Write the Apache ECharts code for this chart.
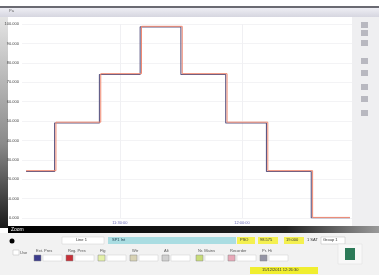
<!DOCTYPE html>
<html>
<head>
<meta charset="utf-8">
<script src="https://cdn.jsdelivr.net/npm/echarts@6/dist/echarts.min.js"></script>
<style>
  html, body { margin: 0; padding: 0; background: #fff; }
  #chart { width: 379px; height: 275px; }
</style>
</head>
<body>
<div id="chart"></div>
<script>
var dom = document.getElementById('chart');
var myChart = echarts.init(dom);

// set point (dark) and process value (red), step start times and levels
var day = '2024-01-01 ';
var spTimes = ['11:07:00', '11:14:00', '11:25:00', '11:35:00', '11:45:00', '11:56:00', '12:06:00', '12:17:00', '12:26:30'];
var spValues = [24, 49, 74, 98.5, 74, 49, 24, 0, 0];
var pvTimes = ['11:07:00', '11:14:20', '11:25:20', '11:35:20', '11:45:20', '11:56:20', '12:06:20', '12:17:20', '12:26:30'];
var pvValues = [24.4, 49.4, 74.4, 98.8, 74.4, 49.4, 24.4, 0.3, 0.3];
var xTicks = ['11:30:00', '12:00:00'];
var yTicks = [0, 10, 20, 30, 40, 50, 60, 70, 80, 90, 100];

function pairs(times, vals) {
    return times.map(function (t, i) { return [day + t, vals[i]]; });
}
var xTickValues = xTicks.map(function (t) { return +new Date(day.trim() + 'T' + t); });

// swatches in the control panel below the chart
var swatches = [
    {x: 34, c: '#3c3c8c', t: 'Ext. Pres'},
    {x: 66, c: '#c83038', t: 'Reg. Pres'},
    {x: 98, c: '#e4f0a8', t: 'Flg'},
    {x: 130, c: '#d8d2b4', t: 'Wtr'},
    {x: 162, c: '#cfcfcf', t: 'Alt'},
    {x: 196, c: '#c8dc78', t: 'Nr. Mains'},
    {x: 228, c: '#e8a8b8', t: 'Recorder'},
    {x: 260, c: '#9494a4', t: 'Pr. Hi'}
];

var graphics = [
    {type: 'rect', shape: {x: 0, y: 6, width: 379, height: 2}, style: {fill: '#6a6a72'}, silent: true},
    {type: 'rect', shape: {x: 0, y: 8, width: 379, height: 9},
        style: {fill: new echarts.graphic.LinearGradient(0, 0, 0, 1, [{offset: 0, color: '#eeeef4'}, {offset: 1, color: '#d6d6e0'}])}, silent: true},
    {type: 'text', x: 9, y: 9, style: {text: 'Pa', fontSize: 4, fill: '#666'}},
    {type: 'rect', shape: {x: 0, y: 17, width: 8, height: 211},
        style: {fill: new echarts.graphic.LinearGradient(0, 0, 0, 1, [{offset: 0, color: '#e4e4e4'}, {offset: 0.6, color: '#8a8a8a'}, {offset: 1, color: '#1a1a1a'}])}, silent: true},
    {type: 'rect', shape: {x: 352, y: 17, width: 27, height: 211}, style: {fill: '#efeff1'}, silent: true},
    {type: 'rect', shape: {x: 8, y: 226, width: 371, height: 7},
        style: {fill: new echarts.graphic.LinearGradient(0, 0, 1, 0, [{offset: 0, color: '#000'}, {offset: 0.75, color: '#222'}, {offset: 1, color: '#9a9a9a'}])}, silent: true},
    {type: 'text', x: 11, y: 227, style: {text: 'Zoom', fontSize: 5, fill: '#fff'}},
    {type: 'rect', shape: {x: 0, y: 233, width: 379, height: 42}, style: {fill: '#f2f2f2'}, silent: true},
    {type: 'circle', shape: {cx: 12, cy: 241, r: 2.5}, style: {fill: '#000'}},
    {type: 'rect', shape: {x: 62, y: 237, width: 42, height: 7}, style: {fill: '#fff', stroke: '#ccc', lineWidth: 0.5}},
    {type: 'text', x: 76, y: 238, style: {text: 'Line 1', fontSize: 4, fill: '#333'}},
    {type: 'rect', shape: {x: 108, y: 237, width: 128, height: 7}, style: {fill: '#aadde2'}},
    {type: 'text', x: 112, y: 238, style: {text: 'SP1 Int', fontSize: 4, fill: '#245'}},
    {type: 'rect', shape: {x: 237, y: 237, width: 18, height: 7}, style: {fill: '#f4f050'}},
    {type: 'text', x: 240, y: 238, style: {text: 'PSO', fontSize: 4, fill: '#333'}},
    {type: 'rect', shape: {x: 258, y: 237, width: 20, height: 7}, style: {fill: '#f4f050'}},
    {type: 'text', x: 260, y: 238, style: {text: '98.575', fontSize: 4, fill: '#333'}},
    {type: 'rect', shape: {x: 284, y: 237, width: 20, height: 7}, style: {fill: '#f4f050'}},
    {type: 'text', x: 286, y: 238, style: {text: '19.000', fontSize: 4, fill: '#333'}},
    {type: 'text', x: 307, y: 238, style: {text: '1 SAT', fontSize: 4, fill: '#333'}},
    {type: 'rect', shape: {x: 321, y: 237, width: 24, height: 7}, style: {fill: '#fff', stroke: '#bbb', lineWidth: 0.5}},
    {type: 'text', x: 323, y: 238, style: {text: 'Group 1', fontSize: 4, fill: '#333'}},
    {type: 'rect', shape: {x: 13, y: 250, width: 6, height: 5}, style: {fill: '#fff', stroke: '#bbb', lineWidth: 0.5}},
    {type: 'text', x: 20, y: 251, style: {text: 'Use', fontSize: 4, fill: '#555'}},
    {type: 'rect', shape: {x: 250, y: 267, width: 68, height: 7}, style: {fill: '#f0ee30'}},
    {type: 'text', x: 262, y: 268, style: {text: '15/12/2011 12:26:30', fontSize: 4, fill: '#333'}},
    {type: 'rect', shape: {x: 338, y: 244, width: 24, height: 20}, style: {fill: '#f8f8f8', stroke: '#ddd', lineWidth: 0.5}},
    {type: 'rect', shape: {x: 345, y: 248, width: 10, height: 12}, style: {fill: '#2c7a58'}}
];

swatches.forEach(function (s) {
    graphics.push({type: 'text', x: s.x + 2, y: 249, style: {text: s.t, fontSize: 4, fill: '#555'}});
    graphics.push({type: 'rect', shape: {x: s.x, y: 255, width: 7, height: 6}, style: {fill: s.c, stroke: '#888', lineWidth: 0.5}});
    graphics.push({type: 'rect', shape: {x: s.x + 9, y: 255, width: 19, height: 6}, style: {fill: '#fff', stroke: '#ccc', lineWidth: 0.5}});
});

[22, 30, 40, 58, 70, 84, 96, 110].forEach(function (y) {
    graphics.push({type: 'rect', shape: {x: 361, y: y, width: 7, height: 6}, style: {fill: '#b8b8c0'}});
});

var option = {
    backgroundColor: '#fff',
    animation: false,
    grid: {left: 22, right: 27, top: 24, bottom: 57},
    xAxis: {
        type: 'time',
        min: day + '11:06:00',
        max: day + '12:27:00',
        axisLine: {show: false},
        axisTick: {show: false, customValues: xTickValues},
        axisLabel: {fontSize: 4, color: '#6a6ab8', margin: 3, customValues: xTickValues, formatter: '{HH}:{mm}:{ss}'},
        splitLine: {show: true, lineStyle: {color: '#f0f0f3', width: 1}}
    },
    yAxis: {
        type: 'value',
        min: yTicks[0],
        max: yTicks[yTicks.length - 1],
        interval: 10,
        axisLine: {show: false},
        axisTick: {show: false},
        axisLabel: {fontSize: 4, color: '#444', margin: 3, formatter: function (v) { return v.toFixed(3); }},
        splitLine: {show: true, lineStyle: {color: '#f3f3f5', width: 1}}
    },
    series: [
        {
            name: 'SP', type: 'line', step: 'end', symbol: 'none',
            lineStyle: {color: '#5e5884', width: 1.1},
            data: pairs(spTimes, spValues), z: 3
        },
        {
            name: 'PV', type: 'line', step: 'end', symbol: 'none',
            lineStyle: {color: '#f08a72', width: 1},
            data: pairs(pvTimes, pvValues), z: 4
        }
    ],
    graphic: graphics
};

if (option && typeof option === 'object') {
    myChart.setOption(option, true);
}
</script>
</body>
</html>
